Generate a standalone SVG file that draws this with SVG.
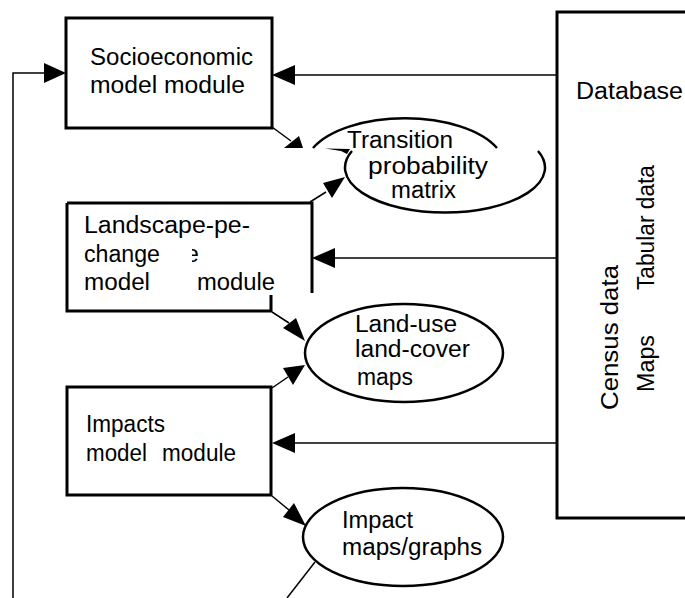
<svg xmlns="http://www.w3.org/2000/svg" width="685" height="598" viewBox="0 0 685 598">
<style>
.box{fill:none;stroke:#000;stroke-width:3}
.ell{fill:none;stroke:#000;stroke-width:2.5}
.ln{fill:none;stroke:#000;stroke-width:1.5}
.ah{fill:#000;stroke:none}
text{font-family:"Liberation Sans",Arial,sans-serif;font-size:23px;fill:#000}
</style>
<defs>
<clipPath id="clipE"><rect x="192" y="240" width="9" height="26"/></clipPath>
</defs>
<rect width="685" height="598" fill="#fff"/>
<g id="connectors">
<polyline class="ln" points="13,598 13,73 44,73"/>
<polygon class="ah" points="44,63 66,73 44,83"/>
<line class="ln" x1="557" y1="75" x2="295" y2="75"/>
<polygon class="ah" points="295,65 272,75 295,85"/>
<line class="ln" x1="272" y1="127" x2="291" y2="141"/>
<polygon class="ah" points="284,148 299,136 303,148"/>
<polygon class="ah" points="325,148.5 350,149 347,154 341,151"/>
<line class="ln" x1="310" y1="202" x2="326" y2="192"/>
<polygon class="ah" points="323,183 345,177 332,198"/>
<line class="ln" x1="557" y1="258" x2="335" y2="258"/>
<polygon class="ah" points="335,248 312,258 335,268"/>
<line class="ln" x1="272" y1="312" x2="289" y2="323"/>
<polygon class="ah" points="283,328 296,318 305,341"/>
<line class="ln" x1="272" y1="388" x2="288" y2="377"/>
<polygon class="ah" points="283,368 305,365 293,385"/>
<line class="ln" x1="557" y1="443" x2="295" y2="443"/>
<polygon class="ah" points="295,433 272,443 295,453"/>
<line class="ln" x1="272" y1="496" x2="289" y2="510"/>
<polygon class="ah" points="283,517 294,503 306,526"/>
<line class="ln" x1="315" y1="562" x2="287" y2="598"/>
</g>
<g id="socioeconomic">
<rect class="box" x="66" y="18" width="206" height="110"/>
<text x="90" y="65" textLength="163" lengthAdjust="spacingAndGlyphs">Socioeconomic</text>
<text x="90" y="93" textLength="155" lengthAdjust="spacingAndGlyphs">model module</text>
</g>
<g id="transition">
<path class="ell" d="M313,148 A100,49 0 0,1 497,148"/>
<path class="ell" d="M352,151 A100,45 0 1,0 538,151"/>
<text x="347" y="148" textLength="106" lengthAdjust="spacingAndGlyphs">Transition</text>
<text x="368" y="174" textLength="120" lengthAdjust="spacingAndGlyphs">probability</text>
<text x="391" y="198" textLength="65" lengthAdjust="spacingAndGlyphs">matrix</text>
</g>
<g id="landscape">
<path class="box" d="M67,203 H312 V293 M271,295 V311 H67 V203"/>
<text x="84" y="233" textLength="166" lengthAdjust="spacingAndGlyphs">Landscape-pe-</text>
<text x="84" y="262" textLength="76" lengthAdjust="spacingAndGlyphs">change</text>
<text x="186" y="262" clip-path="url(#clipE)">e</text>
<text x="84" y="290" textLength="66" lengthAdjust="spacingAndGlyphs">model</text>
<text x="197" y="290" textLength="78" lengthAdjust="spacingAndGlyphs">module</text>
</g>
<g id="landuse">
<ellipse class="ell" cx="404" cy="353" rx="99" ry="49"/>
<text x="355" y="332" textLength="102" lengthAdjust="spacingAndGlyphs">Land-use</text>
<text x="355" y="357" textLength="115" lengthAdjust="spacingAndGlyphs">land-cover</text>
<text x="357" y="385" textLength="56" lengthAdjust="spacingAndGlyphs">maps</text>
</g>
<g id="impacts">
<rect class="box" x="67" y="387" width="204" height="108"/>
<text x="86" y="432" textLength="79" lengthAdjust="spacingAndGlyphs">Impacts</text>
<text x="86" y="461" textLength="61" lengthAdjust="spacingAndGlyphs">model</text>
<text x="162" y="461" textLength="74" lengthAdjust="spacingAndGlyphs">module</text>
</g>
<g id="impactmaps">
<ellipse class="ell" cx="403" cy="537" rx="100" ry="49"/>
<text x="342" y="528" textLength="71" lengthAdjust="spacingAndGlyphs">Impact</text>
<text x="342" y="555" textLength="140" lengthAdjust="spacingAndGlyphs">maps/graphs</text>
</g>
<g id="database">
<path class="box" d="M690,12 H557 V518 H690"/>
<text x="576" y="99" textLength="107" lengthAdjust="spacingAndGlyphs">Database</text>
<text transform="translate(618,410) rotate(-90)" textLength="145" lengthAdjust="spacingAndGlyphs">Census data</text>
<text transform="translate(654,290) rotate(-90)" textLength="125" lengthAdjust="spacingAndGlyphs">Tabular data</text>
<text transform="translate(654,392) rotate(-90)" textLength="57" lengthAdjust="spacingAndGlyphs">Maps</text>
</g>
</svg>
